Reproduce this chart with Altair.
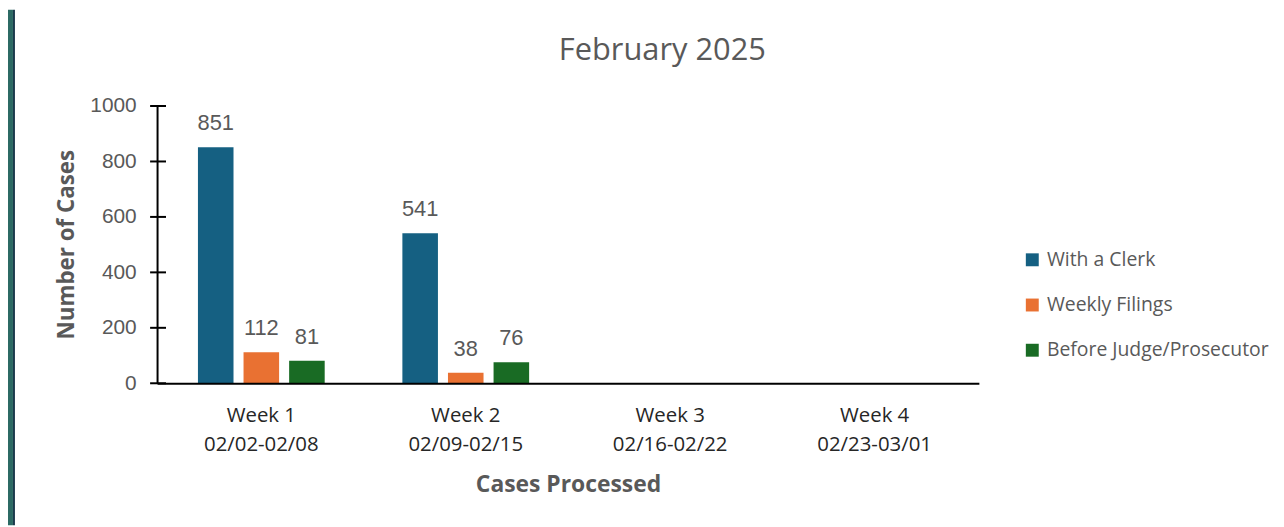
import altair as alt
import pandas as pd

week_names = ["Week 1", "Week 2", "Week 3", "Week 4"]
week_ranges = ["02/02-02/08", "02/09-02/15", "02/16-02/22", "02/23-03/01"]
series = ["With a Clerk", "Weekly Filings", "Before Judge/Prosecutor"]
colors = ["#156082", "#E97132", "#196B24"]
with_clerk = [851, 541, None, None]
weekly_filings = [112, 38, None, None]
before_judge = [81, 76, None, None]
y_ticks = [0, 200, 400, 600, 800, 1000]

weeks = [f"{n}|{r}" for n, r in zip(week_names, week_ranges)]
rows = []
for s, vals in zip(series, [with_clerk, weekly_filings, before_judge]):
    for w, v in zip(weeks, vals):
        if v is not None:
            rows.append({"week": w, "series": s, "value": v})
df = pd.DataFrame(rows)
ticks_df = pd.DataFrame({"value": y_ticks})

x_enc = alt.X(
    "week:N",
    sort=weeks,
    scale=alt.Scale(domain=weeks, paddingInner=0.38, paddingOuter=0.2),
    axis=alt.Axis(
        title="Cases Processed",
        labelExpr="split(datum.label, '|')",
        labelAngle=0,
        labelFont="Open Sans",
        labelFontSize=20.5,
        labelColor="#262626",
        labelLineHeight=30,
        labelPadding=22,
        labelBaseline="top",
        ticks=False,
        domainColor="#000000",
        domainWidth=2,
        titleFont="Open Sans",
        titleFontSize=23,
        titleFontWeight="bold",
        titleColor="#595959",
        titleY=102,
        titleBaseline="middle",
        zindex=1,
    ),
)
xo_enc = alt.XOffset(
    "series:N", sort=series,
    scale=alt.Scale(domain=series, paddingInner=0.22, paddingOuter=0),
)
y_enc = alt.Y(
    "value:Q",
    scale=alt.Scale(domain=[0, 1000]),
    axis=alt.Axis(
        title="Number of Cases",
        values=y_ticks,
        format="d",
        grid=False,
        ticks=False,
        labelFont="Liberation Sans",
        labelFontSize=21,
        labelColor="#595959",
        labelPadding=21,
        domainColor="#000000",
        domainWidth=2,
        titleFont="Open Sans",
        titleFontSize=22.5,
        titleFontWeight="bold",
        titleColor="#595959",
        titleX=-91,
        titleY=139,
        titleAngle=-90,
        titleBaseline="middle",
        titleAlign="center",
        zindex=1,
    ),
)

frame_strip = alt.Chart(alt.Data(values=[{}])).mark_rect(fill="#2c6a64").encode(
    x=alt.value(-150), x2=alt.value(-145), y=alt.value(-97), y2=alt.value(422)
)
frame_line = alt.Chart(alt.Data(values=[{}])).mark_rect(fill="#1b3a4c").encode(
    x=alt.value(-145), x2=alt.value(-143), y=alt.value(-97), y2=alt.value(422)
)

bars = alt.Chart(df).mark_bar().encode(
    x=x_enc,
    xOffset=xo_enc,
    y=y_enc,
    color=alt.Color(
        "series:N",
        sort=series,
        scale=alt.Scale(domain=series, range=colors),
        legend=alt.Legend(
            title=None,
            orient="none",
            legendX=871,
            legendY=145,
            symbolType="square",
            symbolSize=169,
            symbolStrokeWidth=0,
            labelFont="Open Sans",
            labelFontSize=19.5,
            labelColor="#595959",
            labelOffset=5,
            labelLimit=0,
            rowPadding=24.5,
            padding=0,
        ),
    ),
)

labels = alt.Chart(df).mark_text(
    baseline="alphabetic", dy=-17, font="Liberation Sans", fontSize=22, color="#595959"
).encode(x=x_enc, xOffset=xo_enc, y=y_enc, text="value:Q")

tick_rules = alt.Chart(ticks_df).mark_rule(color="#000000", strokeWidth=2).encode(
    y=y_enc, x=alt.value(-7), x2=alt.value(9)
)

chart = alt.layer(frame_strip, frame_line, bars, labels, tick_rules).properties(
    width=827,
    height=279,
    autosize=alt.AutoSizeParams(type="none"),
    padding={"left": 150, "top": 97, "right": 299, "bottom": 143},
    background="#ffffff",
    title=alt.TitleParams(
        "February 2025",
        font="Open Sans",
        fontSize=31,
        fontWeight="normal",
        color="#595959",
        anchor="middle",
        frame="group",
        dx=95,
        offset=-58,
    ),
).configure_view(stroke=None)

chart.save("out.html", embed_options={"renderer": "svg", "actions": False})
